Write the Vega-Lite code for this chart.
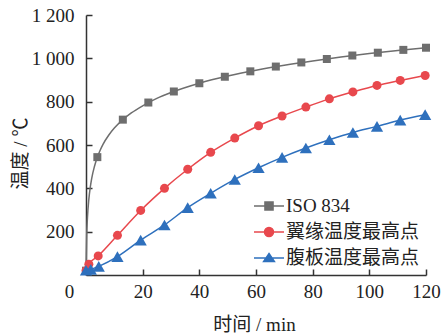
{
  "$schema": "https://vega.github.io/schema/vega-lite/v6.json",
  "width": 340,
  "height": 260,
  "autosize": {"type": "none"},
  "padding": {"left": 86, "top": 15, "right": 20, "bottom": 60},
  "background": "white",
  "config": {"view": {"stroke": null}, "font": "Liberation Serif"},
  "datasets": {
    "curve": [
      {"t": 0, "T": 20, "series": "ISO 834"},
      {"t": 0.25, "T": 185, "series": "ISO 834"},
      {"t": 0.5, "T": 261, "series": "ISO 834"},
      {"t": 1, "T": 349, "series": "ISO 834"},
      {"t": 1.5, "T": 404, "series": "ISO 834"},
      {"t": 2, "T": 445, "series": "ISO 834"},
      {"t": 3, "T": 502, "series": "ISO 834"},
      {"t": 4, "T": 544, "series": "ISO 834"},
      {"t": 5, "T": 576, "series": "ISO 834"},
      {"t": 6, "T": 603, "series": "ISO 834"},
      {"t": 8, "T": 645, "series": "ISO 834"},
      {"t": 10, "T": 678, "series": "ISO 834"},
      {"t": 13, "T": 717, "series": "ISO 834"},
      {"t": 16, "T": 748, "series": "ISO 834"},
      {"t": 20, "T": 781, "series": "ISO 834"},
      {"t": 25, "T": 815, "series": "ISO 834"},
      {"t": 30, "T": 842, "series": "ISO 834"},
      {"t": 40, "T": 885, "series": "ISO 834"},
      {"t": 50, "T": 918, "series": "ISO 834"},
      {"t": 60, "T": 945, "series": "ISO 834"},
      {"t": 70, "T": 968, "series": "ISO 834"},
      {"t": 80, "T": 988, "series": "ISO 834"},
      {"t": 90, "T": 1006, "series": "ISO 834"},
      {"t": 100, "T": 1022, "series": "ISO 834"},
      {"t": 110, "T": 1036, "series": "ISO 834"},
      {"t": 120, "T": 1049, "series": "ISO 834"}
    ],
    "markers": [
      {"t": 0, "T": 20, "series": "ISO 834"},
      {"t": 4, "T": 544, "series": "ISO 834"},
      {"t": 13, "T": 717, "series": "ISO 834"},
      {"t": 22, "T": 796, "series": "ISO 834"},
      {"t": 31, "T": 847, "series": "ISO 834"},
      {"t": 40, "T": 885, "series": "ISO 834"},
      {"t": 49, "T": 915, "series": "ISO 834"},
      {"t": 58, "T": 940, "series": "ISO 834"},
      {"t": 67, "T": 962, "series": "ISO 834"},
      {"t": 76, "T": 981, "series": "ISO 834"},
      {"t": 85, "T": 997, "series": "ISO 834"},
      {"t": 94, "T": 1013, "series": "ISO 834"},
      {"t": 103, "T": 1026, "series": "ISO 834"},
      {"t": 112, "T": 1039, "series": "ISO 834"},
      {"t": 120, "T": 1049, "series": "ISO 834"},
      {"t": 0, "T": 20, "series": "翼缘温度最高点"},
      {"t": 1, "T": 50, "series": "翼缘温度最高点"},
      {"t": 4.3, "T": 88, "series": "翼缘温度最高点"},
      {"t": 11.1, "T": 183, "series": "翼缘温度最高点"},
      {"t": 19.3, "T": 298, "series": "翼缘温度最高点"},
      {"t": 27.7, "T": 400, "series": "翼缘温度最高点"},
      {"t": 35.9, "T": 488, "series": "翼缘温度最高点"},
      {"t": 44, "T": 566, "series": "翼缘温度最高点"},
      {"t": 52.5, "T": 632, "series": "翼缘温度最高点"},
      {"t": 60.9, "T": 689, "series": "翼缘温度最高点"},
      {"t": 69.2, "T": 734, "series": "翼缘温度最高点"},
      {"t": 77.6, "T": 775, "series": "翼缘温度最高点"},
      {"t": 85.9, "T": 813, "series": "翼缘温度最高点"},
      {"t": 94.2, "T": 845, "series": "翼缘温度最高点"},
      {"t": 102.7, "T": 875, "series": "翼缘温度最高点"},
      {"t": 110.9, "T": 898, "series": "翼缘温度最高点"},
      {"t": 119.7, "T": 921, "series": "翼缘温度最高点"},
      {"t": 0, "T": 22, "series": "腹板温度最高点"},
      {"t": 1.7, "T": 26, "series": "腹板温度最高点"},
      {"t": 4.5, "T": 40, "series": "腹板温度最高点"},
      {"t": 11.1, "T": 85, "series": "腹板温度最高点"},
      {"t": 19.3, "T": 161, "series": "腹板温度最高点"},
      {"t": 27.7, "T": 231, "series": "腹板温度最高点"},
      {"t": 35.9, "T": 311, "series": "腹板温度最高点"},
      {"t": 44, "T": 377, "series": "腹板温度最高点"},
      {"t": 52.5, "T": 441, "series": "腹板温度最高点"},
      {"t": 60.9, "T": 495, "series": "腹板温度最高点"},
      {"t": 69.2, "T": 543, "series": "腹板温度最高点"},
      {"t": 77.6, "T": 586, "series": "腹板温度最高点"},
      {"t": 85.9, "T": 624, "series": "腹板温度最高点"},
      {"t": 94.2, "T": 658, "series": "腹板温度最高点"},
      {"t": 102.7, "T": 686, "series": "腹板温度最高点"},
      {"t": 110.9, "T": 715, "series": "腹板温度最高点"},
      {"t": 119.7, "T": 740, "series": "腹板温度最高点"}
    ]
  },
  "encoding": {
    "x": {
      "field": "t", "type": "quantitative",
      "scale": {"domain": [0, 120], "nice": false, "zero": false},
      "axis": {
        "title": "时间 / min",
        "values": [0, 20, 40, 60, 80, 100, 120],
        "grid": false,
        "domainColor": "#333333", "domainWidth": 1.5,
        "tickColor": "#333333", "tickWidth": 1.5, "tickSize": -6,
        "labelFont": "Liberation Serif", "labelFontSize": 19, "labelColor": "#222222",
        "labelPadding": 13, "labelFlush": false,
        "labelOffset": {"condition": {"test": "datum.value === 0", "value": -17}, "value": 0},
        "titleFont": "Liberation Serif, Noto Sans CJK SC", "titleFontSize": 19, "titleFontWeight": "normal",
        "titleColor": "#222222", "titleBaseline": "alphabetic", "titleY": 55, "titleX": 168
      }
    },
    "y": {
      "field": "T", "type": "quantitative",
      "scale": {"domain": [0, 1200], "nice": false},
      "axis": {
        "title": "温度 / ℃",
        "values": [200, 400, 600, 800, 1000, 1200],
        "grid": false,
        "domainColor": "#333333", "domainWidth": 1.5,
        "tickColor": "#333333", "tickWidth": 1.5, "tickSize": -6,
        "labelFont": "Liberation Serif", "labelFontSize": 19, "labelColor": "#222222",
        "labelPadding": 18, "labelFlush": false,
        "labelExpr": "replace(format(datum.value, ','), ',', ' ')",
        "titleFont": "Liberation Serif, Noto Sans CJK SC", "titleFontSize": 19, "titleFontWeight": "normal",
        "titleColor": "#222222", "titleBaseline": "middle", "titleAlign": "center",
        "titleX": -66, "titleY": 138, "titleAngle": -90
      }
    },
    "color": {"field": "series", "type": "nominal",
      "scale": {"domain": ["ISO 834", "翼缘温度最高点", "腹板温度最高点"], "range": ["#6e6e6e", "#e8484d", "#2e70bd"]},
      "legend": {
        "orient": "none", "legendX": 167, "legendY": 175, "title": null,
        "labelFont": "Liberation Serif, Noto Sans CJK SC", "labelFontSize": 19, "labelColor": "#222222",
        "labelOffset": 1, "symbolSize": 900, "rowPadding": -3.4, "padding": 0,
        "symbolStrokeWidth": 1.5, "symbolOpacity": 1
      }
    }
  },
  "layer": [
    {
      "data": {"name": "markers"},
      "transform": [{"filter": "datum.t < 0"}],
      "mark": {"type": "point", "filled": true, "opacity": 1, "fillOpacity": 1, "strokeOpacity": 1},
      "encoding": {
        "shape": {"field": "series", "type": "nominal",
          "scale": {"domain": ["ISO 834", "翼缘温度最高点", "腹板温度最高点"],
            "range": ["M-1,0H1M-0.27,-0.27H0.27V0.27H-0.27Z", "M-1,0H1M-0.3,0A0.3,0.3,0,1,0,0.3,0A0.3,0.3,0,1,0,-0.3,0Z", "M-1,0H1M0,-0.3L0.36,0.24H-0.36Z"]}}
      }
    },
    {
      "data": {"name": "curve"},
      "mark": {"type": "line", "interpolate": "monotone", "strokeWidth": 1.5}
    },
    {
      "data": {"name": "markers"},
      "transform": [{"filter": "datum.series !== 'ISO 834'"}],
      "mark": {"type": "line", "interpolate": "monotone", "strokeWidth": 1.5}
    },
    {
      "data": {"name": "markers"},
      "transform": [{"filter": "datum.series === 'ISO 834'"}],
      "mark": {"type": "point", "filled": true, "opacity": 1, "shape": "square", "size": 64}
    },
    {
      "data": {"name": "markers"},
      "transform": [{"filter": "datum.series === '翼缘温度最高点'"}],
      "mark": {"type": "point", "filled": true, "opacity": 1, "shape": "circle", "size": 81}
    },
    {
      "data": {"name": "markers"},
      "transform": [{"filter": "datum.series === '腹板温度最高点'"}],
      "mark": {"type": "point", "filled": true, "opacity": 1, "shape": "triangle-up", "size": 150}
    }
  ]
}
